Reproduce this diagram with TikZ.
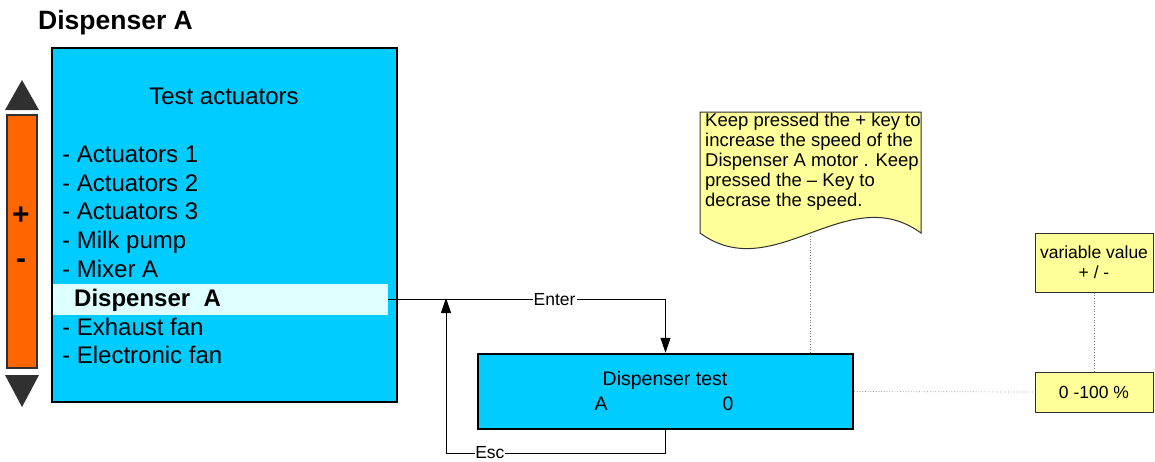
\documentclass[tikz,border=0pt]{standalone}
\usepackage{fontspec}
\setmainfont{Liberation Sans}
\usetikzlibrary{arrows.meta,calc}
\definecolor{cyanbox}{HTML}{00CCFF}
\definecolor{hlcyan}{HTML}{DDFFFF}
\definecolor{orangebar}{HTML}{FF6600}
\definecolor{notey}{HTML}{FFFF99}
\definecolor{darkedge}{HTML}{303030}
\tikzset{
  item/.style={anchor=mid west,inner sep=0pt,font=\fontsize{24}{28}\selectfont},
  ybox/.style={draw=darkedge,fill=notey,line width=1pt,align=center,font=\fontsize{17.5}{20}\selectfont,inner sep=0pt},
  arr/.style={line width=1pt,-{Triangle[length=15pt,width=10pt]}},
  conn/.style={line width=1pt},
  lbl/.style={fill=white,inner sep=1pt,font=\fontsize{17.5}{20}\selectfont},
  dotc/.style={draw=gray,line width=0.7pt,dotted}
}
\begin{document}
\begin{tikzpicture}[x=1pt,y=-1pt]
\useasboundingbox (0,0) rectangle (1155,461);
% title
\node[anchor=mid west,inner sep=0pt,font=\fontsize{26.5}{30}\selectfont\bfseries] (title) at (38,27) {Dispenser A};
% orange bar and arrows
\node[draw=darkedge,line width=1.5pt,fill=orangebar,minimum width=30pt,minimum height=253pt,inner sep=0pt] (bar) at (22,241.5) {};
\node[font=\fontsize{30}{30}\selectfont\bfseries,inner sep=0pt] (plus) at (21,216) {+};
\node[font=\fontsize{30}{30}\selectfont\bfseries,inner sep=0pt] (minus) at (21,264) {-};
\fill[darkedge] (5,110) -- (39,110) -- (22,80) -- cycle;
\fill[darkedge] (5,375) -- (39,375) -- (22,407) -- cycle;
% menu box
\node[draw=black,line width=2pt,fill=cyanbox,minimum width=345pt,minimum height=354pt,inner sep=0pt] (menu) at (224.5,225) {};
\node[font=\fontsize{24}{28}\selectfont,inner sep=0pt] (ta) at (224,96) {Test actuators};
\node[fill=hlcyan,minimum width=335pt,minimum height=31pt,inner sep=0pt] (hl) at (220.5,299.5) {};
\node[item] (i1) at (62,160) {- Actuators 1};
\node[item] (i2) at (62,189) {- Actuators 2};
\node[item] (i3) at (62,217) {- Actuators 3};
\node[item] (i4) at (62,246) {- Milk pump};
\node[item] (i5) at (62,275) {- Mixer A};
\node[item,font=\fontsize{24}{28}\selectfont\bfseries] (i6) at (74,304) {Dispenser\ \ A};
\node[item] (i7) at (62,333) {- Exhaust fan};
\node[item] (i8) at (62,361) {- Electronic fan};
% dispenser test box
\node[draw=black,line width=2.5pt,fill=cyanbox,minimum width=375pt,minimum height=75pt,inner sep=0pt] (dt) at (665.5,391.5) {};
\node[font=\fontsize{19.5}{22}\selectfont,inner sep=0pt] (dtt) at (665,380) {Dispenser test};
\node[font=\fontsize{19.5}{22}\selectfont,inner sep=0pt] (dta) at (601,404) {A};
\node[font=\fontsize{19.5}{22}\selectfont,inner sep=0pt] (dt0) at (728,404) {0};
% connectors
\coordinate (escend) at (446,298);
\coordinate (escbot) at (665.5,453);
\draw[arr] (hl.east) -| node[lbl,pos=0.3] {Enter} (dt.north);
\draw[arr] (dt.south) -- (escbot) -| node[lbl,pos=0.4,inner sep=0.5pt] {Esc} (escend);
% note (document shape)
\draw[draw=darkedge,fill=notey,line width=1pt] (700,112) -- (921,112) -- (921,233)
  .. controls (847,179) and (774,287) .. (700,233) -- cycle;
\node[anchor=north west,align=left,inner sep=0pt,font=\fontsize{18.5}{20}\selectfont] (note) at (705,113)
  {Keep pressed the + key to\\increase the speed of the\\Dispenser A motor . Keep\\pressed the – Key to\\decrase the speed.};
\coordinate (notebot) at (810,236);
\draw[dotc] (notebot) -- (notebot |- dt.north);
% yellow boxes
\node[ybox,minimum width=118pt,minimum height=59pt] (vv) at (1094,262.5) {variable value\\+ / -};
\node[ybox,minimum width=118pt,minimum height=40pt] (rng) at (1094,392) {0 -100 \%};
\draw[dotc] (dt.east) -- (rng.west);
\draw[dotc] (vv.south) -- (rng.north);
\end{tikzpicture}
\end{document}
